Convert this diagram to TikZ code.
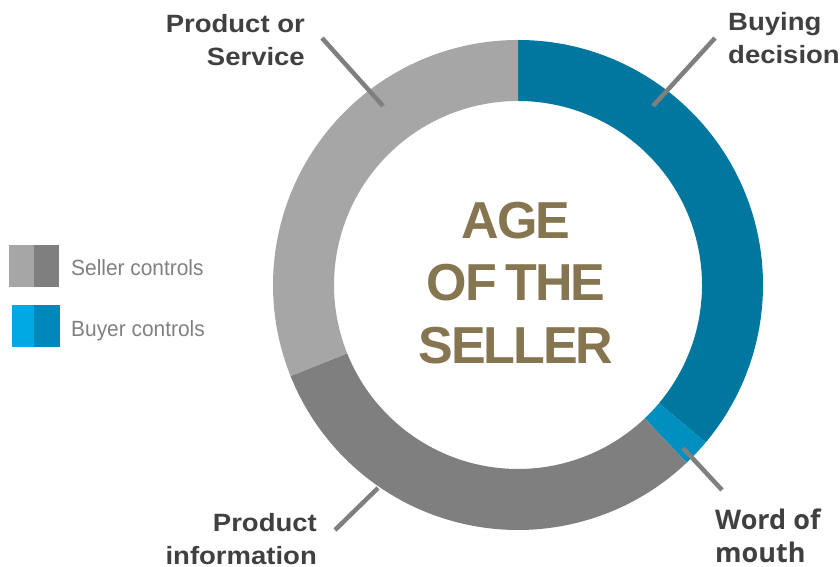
\documentclass[tikz,border=0pt]{standalone}
\usepackage{fontspec}
\setmainfont{Liberation Sans}
\newfontfamily\lblfont[FakeStretch=1.1]{Liberation Sans}
\newfontfamily\womfont{Open Sans}
\newfontfamily\ctrfont[LetterSpace=-4]{Liberation Sans}
\newfontfamily\legfont[FakeStretch=0.95]{Liberation Sans}
\definecolor{greyL}{HTML}{A6A6A6}
\definecolor{greyD}{HTML}{7F7F7F}
\definecolor{blueD}{HTML}{00779F}
\definecolor{blueM}{HTML}{0090C0}
\definecolor{legBL}{HTML}{00A9E3}
\definecolor{legBD}{HTML}{0087BB}
\definecolor{lbltext}{HTML}{404040}
\definecolor{ctrtext}{HTML}{857550}
\definecolor{legtext}{HTML}{808080}
\definecolor{leader}{HTML}{7F7F7F}
\tikzset{
  lbl/.style={inner sep=0pt, text=lbltext, font=\lblfont\bfseries\fontsize{25}{33}\selectfont},
  lblw/.style={inner sep=0pt, text=lbltext, font=\womfont\bfseries\fontsize{27}{33}\selectfont},
  leg/.style={inner sep=0pt, text=legtext, font=\legfont\fontsize{22}{26}\selectfont, anchor=base west},
  leaderline/.style={draw=leader, line width=4.5pt},
}
\begin{document}
\begin{tikzpicture}[x=1pt,y=1pt]
\useasboundingbox (0,0) rectangle (840,567);
% ring
\begin{scope}[shift={(518,282)}]
  \fill[blueD] (90:245pt) arc[start angle=90,end angle=-40,radius=245pt] -- (-40:184pt) arc[start angle=-40,end angle=90,radius=184pt] -- cycle;
  \fill[blueM] (-40:245pt) arc[start angle=-40,end angle=-46.5,radius=245pt] -- (-46.5:184pt) arc[start angle=-46.5,end angle=-40,radius=184pt] -- cycle;
  \fill[greyD] (-46.5:245pt) arc[start angle=-46.5,end angle=-158.2,radius=245pt] -- (-158.2:184pt) arc[start angle=-158.2,end angle=-46.5,radius=184pt] -- cycle;
  \fill[greyL] (201.8:245pt) arc[start angle=201.8,end angle=90,radius=245pt] -- (90:184pt) arc[start angle=90,end angle=201.8,radius=184pt] -- cycle;
\end{scope}
% center text
\node[inner sep=0pt, text=ctrtext, align=center, font=\ctrfont\bfseries\fontsize{52}{62.5}\selectfont] (ctr) at (516,284) {AGE\\OF\,THE\\SELLER};
% labels
\node[lbl, align=right, anchor=north east] (pos) at (305,553) {Product or\\Service};
\node[lbl, align=left, anchor=north west] (buy) at (728,555) {Buying\\decision};
\node[lblw, align=left, anchor=north west] (wom) at (715,58) {Word of\\mouth};
\node[lbl, align=right, anchor=north east] (pinf) at (317,54) {Product\\information};
% leader lines
\coordinate (posA) at (322,529); \coordinate (posB) at (383,461);
\coordinate (buyA) at (715,529); \coordinate (buyB) at (653,461);
\coordinate (womA) at (683,119); \coordinate (womB) at (722,77);
\coordinate (pinfA) at (335,37); \coordinate (pinfB) at (378,79);
\draw[leaderline] (posA) -- (posB);
\draw[leaderline] (buyA) -- (buyB);
\draw[leaderline] (womA) -- (womB);
\draw[leaderline] (pinfA) -- (pinfB);
% legend
\fill[greyL] (9,280) rectangle (34,322);
\fill[greyD] (34,280) rectangle (59,322);
\fill[legBL] (12,220) rectangle (34,262);
\fill[legBD] (34,220) rectangle (60,262);
\node[leg] (legS) at (71,291) {Seller controls};
\node[leg] (legB) at (71,230) {Buyer controls};
\end{tikzpicture}
\end{document}
